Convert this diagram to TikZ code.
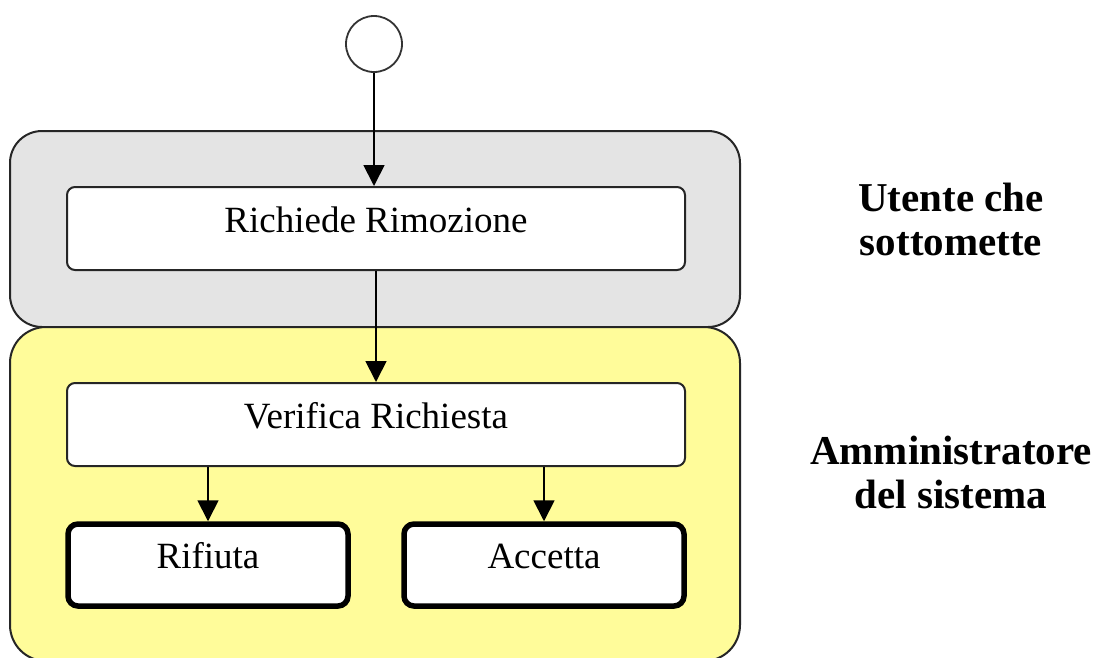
\documentclass[tikz,border=0pt]{standalone}
\usepackage{fontspec}
\setmainfont{Liberation Serif}
\usetikzlibrary{arrows.meta}
\definecolor{lanegray}{HTML}{E4E4E4}
\definecolor{laneyellow}{HTML}{FFFC9A}
\tikzset{
  lane/.style={draw=black!85, line width=2pt, rounded corners=32pt, inner sep=0pt},
  acttext/.style={font=\fontsize{37}{44}\selectfont, text height=24pt, text depth=17pt},
  actbox/.style={acttext, draw=black!85, fill=white, line width=2pt, rounded corners=8pt,
    minimum width=618pt, minimum height=83pt, inner sep=0pt},
  endbox/.style={acttext, draw=black, fill=white, line width=5.5pt, rounded corners=10pt,
    minimum width=280pt, minimum height=82pt, inner sep=0pt},
  startnode/.style={circle, draw=black!80, fill=white, line width=1.8pt,
    minimum size=56pt, inner sep=0pt},
  flow/.style={line width=1.8pt, -{Triangle[width=21pt,length=21pt]}},
  lanelabel/.style={font=\fontsize{41}{44}\selectfont\bfseries, align=center}
}
\begin{document}
\begin{tikzpicture}[x=1pt,y=-1pt]
  \useasboundingbox (0,0) rectangle (1098,657);
  \fill[white] (0,0) rectangle (1098,657);

  % swimlanes (the lower one runs past the page bottom)
  \node[lane, fill=lanegray, minimum width=730pt, minimum height=196pt] (laneU) at (375,229) {};
  \node[lane, fill=laneyellow, rounded corners=36pt, minimum width=730pt, minimum height=334pt] (laneA) at (375,494) {};

  % lane titles
  \node[lanelabel] (labU) at (951,219) {Utente che\\sottomette};
  \node[lanelabel] (labA) at (951,472) {Amministratore\\del sistema};

  % start state
  \node[startnode] (start) at (374,44) {};

  % activities
  \node[actbox] (req) at (376,228.5) {Richiede Rimozione};
  \node[actbox] (ver) at (376,424.5) {Verifica Richiesta};
  \node[endbox] (rif) at (208,565) {Rifiuta};
  \node[endbox] (acc) at (544,565) {Accetta};

  % transitions
  \draw[flow] (start) -- (start |- req.north);
  \draw[flow] (req) -- (ver);
  \draw[flow] (ver.south -| rif) -- (rif.north);
  \draw[flow] (ver.south -| acc) -- (acc.north);
\end{tikzpicture}
\end{document}
